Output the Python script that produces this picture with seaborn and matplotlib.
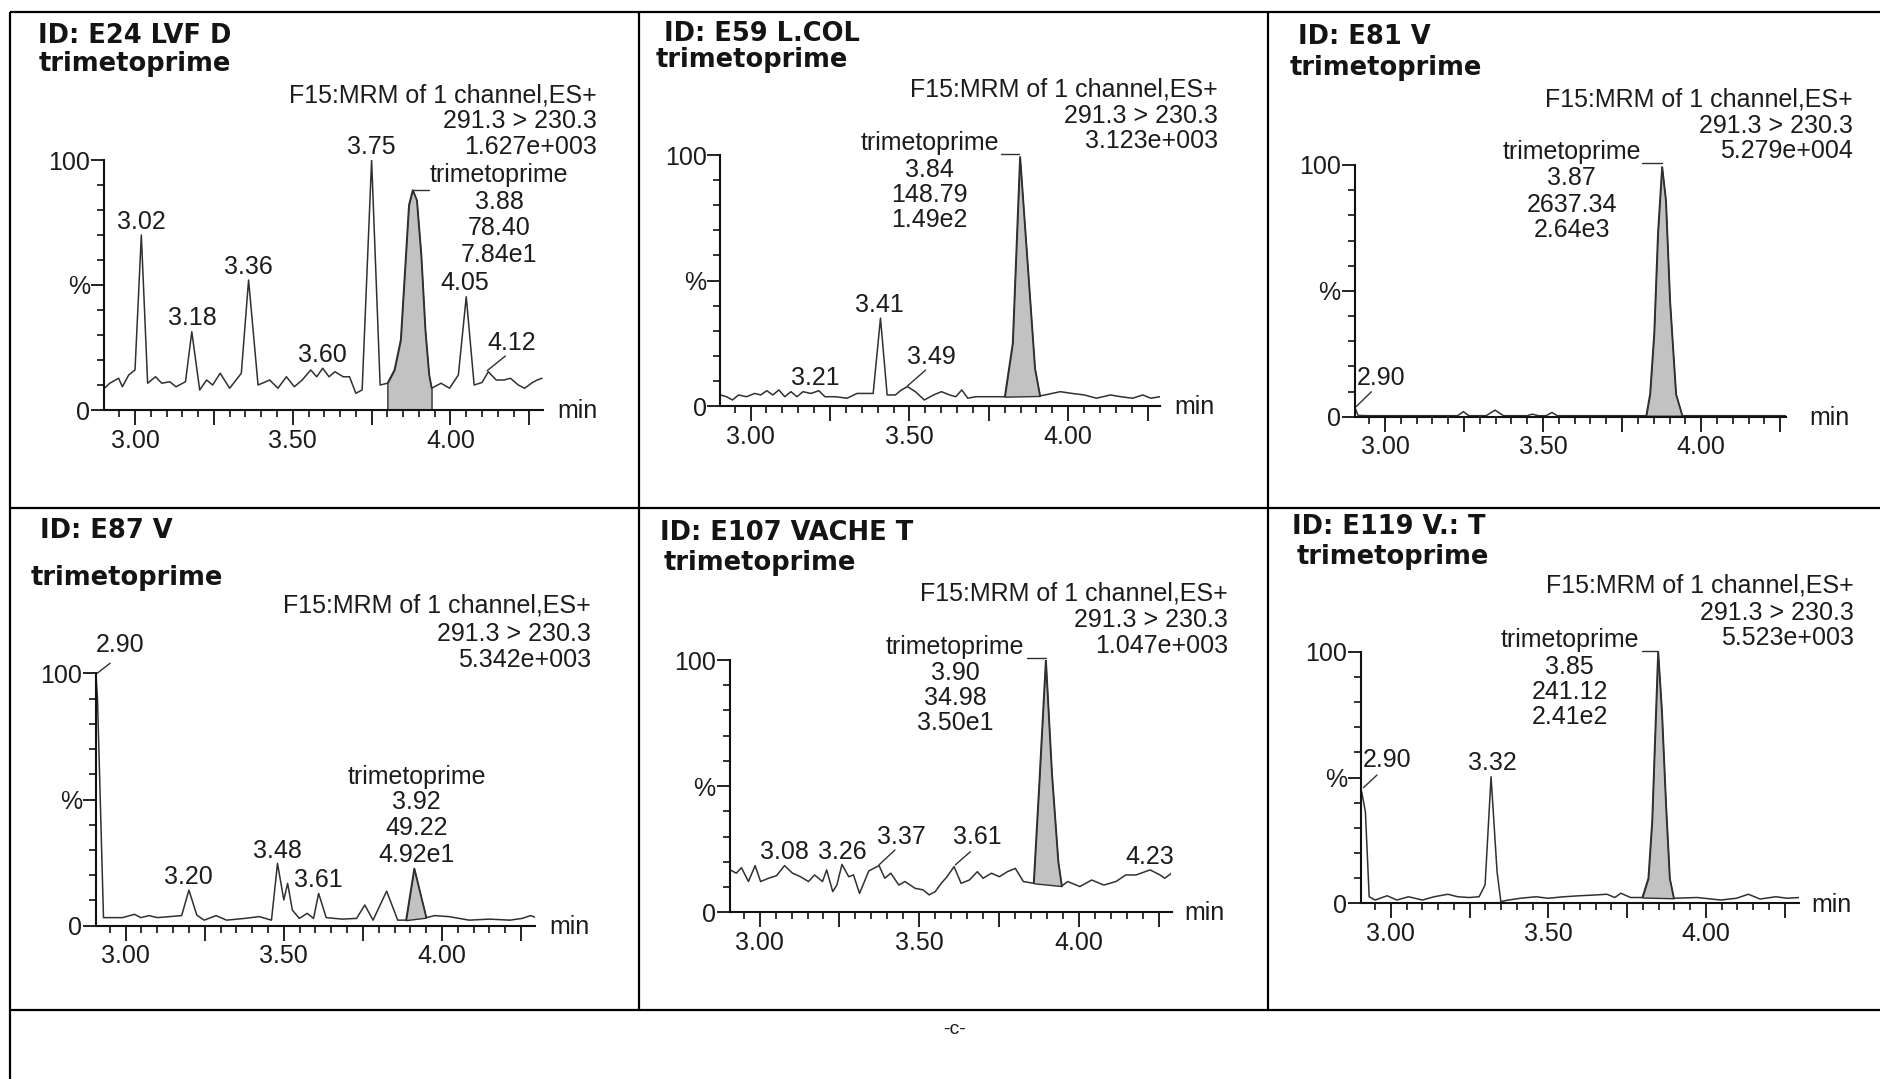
import numpy as np
import pandas as pd
import matplotlib
matplotlib.use("Agg")
import matplotlib.pyplot as plt
import seaborn as sns

# ------------------------------------------------------------------ data
sample_ids = ["ID: E24 LVF D", "ID: E59 L.COL", "ID: E81 V",
              "ID: E87 V", "ID: E107 VACHE T", "ID: E119 V.: T"]
compound = "trimetoprime"
channel_line = "F15:MRM of 1 channel,ES+"
transition = "291.3 > 230.3"
intensities = ["1.627e+003", "3.123e+003", "5.279e+004",
               "5.342e+003", "1.047e+003", "5.523e+003"]
rt_labels = ["3.88", "3.84", "3.87", "3.92", "3.90", "3.85"]
areas = ["78.40", "148.79", "2637.34", "49.22", "34.98", "241.12"]
areas_sci = ["7.84e1", "1.49e2", "2.64e3", "4.92e1", "3.50e1", "2.41e2"]

e24_t = [2.903, 2.92, 2.948, 2.96, 2.98, 3.00, 3.02, 3.04, 3.065, 3.085, 3.11, 3.13, 3.16, 3.18,
         3.205, 3.227, 3.246, 3.27, 3.30, 3.337, 3.36, 3.39, 3.427, 3.453, 3.48, 3.505, 3.53,
         3.557, 3.576, 3.595, 3.615, 3.634, 3.66, 3.68, 3.70, 3.72, 3.75, 3.777, 3.80, 3.822,
         3.842, 3.855, 3.868, 3.88, 3.893, 3.907, 3.92, 3.932, 3.94, 3.97, 3.997, 4.025, 4.05,
         4.075, 4.10, 4.12, 4.145, 4.17, 4.19, 4.215, 4.235, 4.26, 4.275, 4.29]
e24_y = [8.7, 10.7, 12.7, 9.3, 14.0, 16.0, 70.0, 10.7, 13.3, 10.7, 11.3, 9.3, 11.3, 31.3,
         8.0, 12.0, 10.0, 14.7, 8.7, 14.7, 52.0, 10.0, 12.0, 8.7, 13.3, 9.3, 12.0,
         16.0, 13.3, 16.7, 13.3, 15.3, 13.3, 13.3, 6.7, 8.0, 100.0, 10.0, 10.7, 16.0,
         28.0, 55.0, 82.0, 88.0, 84.0, 62.0, 32.0, 14.0, 8.7, 10.7, 8.7, 14.0, 45.3,
         10.0, 11.0, 15.3, 12.0, 12.0, 12.7, 10.0, 8.7, 11.0, 12.0, 12.7]
e24_peaks = ["3.02", "3.18", "3.36", "3.60", "3.75", "4.05", "4.12"]
e24_window = (3.80, 3.94)

e59_t = [2.905, 2.924, 2.943, 2.962, 2.987, 3.013, 3.032, 3.051, 3.07, 3.089, 3.108, 3.127,
         3.146, 3.165, 3.19, 3.215, 3.234, 3.266, 3.304, 3.335, 3.361, 3.386, 3.409, 3.43,
         3.456, 3.475, 3.494, 3.519, 3.547, 3.576, 3.601, 3.627, 3.646, 3.665, 3.684, 3.709,
         3.747, 3.80, 3.825, 3.848, 3.87, 3.895, 3.911, 3.949, 3.975, 4.013, 4.051, 4.089,
         4.133, 4.165, 4.203, 4.235, 4.26, 4.29]
e59_y = [4.4, 3.7, 2.4, 4.4, 3.7, 5.0, 4.4, 6.1, 4.4, 6.4, 3.7, 5.7,
         3.7, 5.7, 5.0, 6.1, 3.7, 3.7, 3.1, 5.0, 5.0, 5.0, 35.0, 4.4,
         4.4, 6.4, 7.7, 5.7, 2.4, 4.4, 5.7, 4.4, 3.7, 6.4, 3.1, 3.7,
         3.7, 3.7, 25.0, 99.3, 60.0, 15.0, 4.0, 5.0, 5.7, 5.0, 4.4, 3.1,
         4.4, 3.7, 3.1, 4.4, 3.1, 3.7]
e59_peaks = ["3.21", "3.41", "3.49"]
e59_window = (3.80, 3.911)

e81_t = [2.904, 2.915, 2.95, 3.00, 3.05, 3.10, 3.15, 3.20, 3.23, 3.248, 3.265, 3.32, 3.348,
         3.375, 3.45, 3.466, 3.485, 3.51, 3.528, 3.545, 3.60, 3.70, 3.80, 3.826, 3.838,
         3.851, 3.863, 3.876, 3.888, 3.901, 3.92, 3.94, 4.00, 4.10, 4.20, 4.267]
e81_y = [4.0, 0.5, 0.4, 0.4, 0.4, 0.4, 0.4, 0.4, 0.4, 2.0, 0.4, 0.4, 2.6,
         0.4, 0.4, 1.0, 0.4, 0.4, 1.7, 0.4, 0.4, 0.4, 0.4, 0.4, 9.0,
         33.0, 73.0, 99.3, 86.0, 46.0, 9.0, 0.4, 0.4, 0.4, 0.4, 0.4]
e81_peaks = ["2.90"]
e81_window = (3.826, 3.94)

e87_t = [2.906, 2.911, 2.93, 2.99, 3.028, 3.048, 3.074, 3.10, 3.177, 3.20, 3.225, 3.248,
         3.286, 3.319, 3.377, 3.422, 3.461, 3.48, 3.50, 3.512, 3.527, 3.549, 3.574, 3.594,
         3.61, 3.634, 3.685, 3.73, 3.756, 3.782, 3.825, 3.86, 3.886, 3.912, 3.95, 3.977,
         4.022, 4.086, 4.15, 4.215, 4.254, 4.28, 4.293]
e87_y = [100.0, 90.0, 3.2, 3.2, 4.5, 3.2, 4.0, 3.2, 4.0, 14.1, 4.2, 2.2,
         4.0, 2.2, 2.9, 3.6, 2.2, 24.7, 10.2, 16.8, 6.2, 2.9, 4.9, 2.9,
         12.8, 3.2, 2.6, 2.9, 8.2, 2.2, 13.7, 2.2, 2.2, 22.7, 3.2, 4.0,
         3.6, 2.2, 2.6, 2.2, 2.9, 4.0, 3.4]
e87_peaks = ["2.90", "3.20", "3.48", "3.61"]
e87_window = (3.886, 3.95)

e107_t = [2.908, 2.927, 2.943, 2.965, 2.986, 3.003, 3.028, 3.053, 3.078, 3.103, 3.128, 3.153,
          3.172, 3.197, 3.21, 3.229, 3.242, 3.258, 3.279, 3.294, 3.313, 3.342, 3.374, 3.392,
          3.411, 3.436, 3.455, 3.487, 3.512, 3.531, 3.55, 3.569, 3.587, 3.609, 3.631, 3.657,
          3.682, 3.70, 3.726, 3.751, 3.776, 3.801, 3.826, 3.858, 3.875, 3.896, 3.915, 3.935,
          3.946, 3.965, 4.003, 4.04, 4.078, 4.116, 4.147, 4.179, 4.223, 4.254, 4.269, 4.29]
e107_y = [16.8, 15.5, 17.7, 12.2, 18.5, 12.2, 13.5, 14.5, 18.5, 15.5, 14.1, 12.2,
          14.8, 12.2, 16.8, 8.2, 10.8, 19.0, 14.1, 14.8, 7.5, 16.4, 18.5, 13.5,
          15.5, 10.8, 12.2, 9.5, 8.9, 6.9, 8.2, 11.5, 14.1, 18.1, 11.5, 12.8,
          16.1, 13.5, 15.5, 14.1, 16.1, 17.4, 12.2, 11.5, 50.0, 100.0, 55.0, 20.0,
          10.4, 12.2, 10.2, 12.8, 10.8, 12.2, 14.8, 14.8, 16.8, 14.8, 13.5, 15.5]
e107_peaks = ["3.08", "3.26", "3.37", "3.61", "4.23"]
e107_window = (3.858, 3.946)

e119_t = [2.907, 2.919, 2.931, 2.95, 2.988, 3.019, 3.056, 3.10, 3.137, 3.181, 3.212, 3.249,
          3.28, 3.299, 3.318, 3.337, 3.349, 3.374, 3.411, 3.461, 3.499, 3.549, 3.599, 3.648,
          3.686, 3.711, 3.73, 3.761, 3.798, 3.817, 3.829, 3.842, 3.848, 3.86, 3.873, 3.885,
          3.898, 3.973, 4.047, 4.097, 4.135, 4.172, 4.222, 4.259, 4.297]
e119_y = [44.4, 36.4, 2.6, 1.3, 3.0, 1.3, 2.6, 1.3, 2.6, 3.6, 2.6, 2.3,
          2.6, 7.3, 50.3, 12.6, 0.7, 1.3, 2.0, 2.6, 2.0, 2.6, 3.0, 3.3,
          3.6, 2.3, 4.0, 2.3, 2.3, 9.9, 32.5, 78.8, 100.0, 76.2, 39.1, 9.9,
          2.0, 2.3, 1.3, 2.0, 3.6, 1.7, 2.6, 2.0, 2.3]
e119_peaks = ["2.90", "3.32"]
e119_window = (3.798, 3.898)

x_major = [3.00, 3.25, 3.50, 3.75, 4.00, 4.25]
x_major_labels = ["3.00", "", "3.50", "", "4.00", ""]
y_major = [0, 50, 100]
y_major_labels = ["0", "%", "100"]

# ------------------------------------------------------------------ layout (pixels / data positions)
W, H = 1881, 1079
panels = [
    dict(t=e24_t, y=e24_y, peaks=e24_peaks, win=e24_window, to_zero=True,
         ax=(104.1, 542.9, 160, 410), xlim=(2.902, 4.293),
         title=(38.5, 43), sub=(38.5, 71), head=(597, [102, 128, 154]), minl=(557, 411),
         ppos=[(3.019, 75.3), (3.181, 36.7), (3.359, 57.3), (3.594, 22), (3.748, 105.3),
               (4.045, 50.7), (4.194, 26.7)],
         leaders=[((4.174, 21.6), (4.116, 15.7))],
         tri=(4.155, [94, 83.3, 72.7, 62]), tri_lead=((3.88, 88), (3.932, 88))),
    dict(t=e59_t, y=e59_y, peaks=e59_peaks, win=e59_window, to_zero=False,
         ax=(720.4, 1160.3, 155, 406), xlim=(2.905, 4.29),
         title=(664, 41), sub=(656, 67), head=(1218, [96, 123, 148]), minl=(1174, 407),
         ppos=[(3.203, 11.0), (3.405, 40.2), (3.57, 19.7)],
         leaders=[((3.551, 14.3), (3.494, 8.0))],
         tri=(3.563, [104.6, 94, 84.1, 74.1]), tri_lead=((3.79, 100.3), (3.846, 100.3))),
    dict(t=e81_t, y=e81_y, peaks=e81_peaks, win=e81_window, to_zero=False,
         ax=(1354.6, 1785.6, 165, 416.7), xlim=(2.904, 4.267),
         title=(1298, 44), sub=(1290, 75), head=(1853, [107, 133, 158]), minl=(1809, 418),
         ppos=[(2.988, 15.2)],
         leaders=[((2.957, 9.9), (2.909, 4.0))],
         tri=(3.59, [105.3, 94.7, 84.1, 74.2]), tri_lead=((3.814, 100.7), (3.876, 100.7))),
    dict(t=e87_t, y=e87_y, peaks=e87_peaks, win=e87_window, to_zero=False,
         ax=(95.9, 534.7, 673.3, 925.7), xlim=(2.906, 4.293),
         title=(39.6, 538), sub=(30.6, 585), head=(591, [613, 641, 667]), minl=(549, 927),
         ppos=[(2.983, 111.2), (3.199, 19.4), (3.48, 29.6), (3.609, 18.1)],
         leaders=[((2.951, 104), (2.91, 100))],
         tri=(3.919, [59.0, 49.1, 38.6, 28.0]), tri_lead=None),
    dict(t=e107_t, y=e107_y, peaks=e107_peaks, win=e107_window, to_zero=False,
         ax=(729.6, 1171.5, 660, 912.3), xlim=(2.906, 4.29),
         title=(660, 540), sub=(664, 570), head=(1228, [600, 627, 653]), minl=(1184, 913),
         ppos=[(3.078, 24.0), (3.26, 24.0), (3.443, 30.0), (3.682, 30.0), (4.223, 22.1)],
         leaders=[((3.424, 24.7), (3.374, 18.8)), ((3.66, 24.0), (3.613, 18.8))],
         tri=(3.613, [105.3, 94.7, 84.8, 74.9]), tri_lead=((3.839, 100.7), (3.896, 100.7))),
    dict(t=e119_t, y=e119_y, peaks=e119_peaks, win=e119_window, to_zero=False,
         ax=(1361.3, 1799.4, 651.7, 903.3), xlim=(2.906, 4.297),
         title=(1292.5, 534), sub=(1296.4, 564), head=(1854, [593, 620, 645]), minl=(1811, 905),
         ppos=[(2.988, 57.0), (3.322, 55.6)],
         leaders=[((2.956, 51), (2.913, 46))],
         tri=(3.567, [104.6, 94, 84.1, 74.2]), tri_lead=((3.798, 100.4), (3.848, 100.4))),
]

# ------------------------------------------------------------------ style
sns.set_theme(style="ticks")
plt.rcParams['font.family'] = ['Liberation Sans', 'DejaVu Sans']
TXT = "#1c1c1c"
TRACE = "#303030"
AXC = "#111111"
FS = 18
TITLE_FONT = dict(family=['DejaVu Sans'], weight='bold', size=18.5, color="#141414")

fig = plt.figure(figsize=(W / 100, H / 100), dpi=100, facecolor="white")

bg = fig.add_axes([0, 0, 1, 1], zorder=0)
bg.set_xlim(0, W)
bg.set_ylim(H, 0)
bg.axis('off')

# table grid
LW_T = 1.6
bg.plot([10, W], [12, 12], color="black", lw=LW_T, solid_capstyle='butt')
bg.plot([10, W], [508, 508], color="black", lw=LW_T, solid_capstyle='butt')
bg.plot([10, W], [1010, 1010], color="black", lw=LW_T, solid_capstyle='butt')
bg.plot([10, 10], [12, H], color="black", lw=LW_T, solid_capstyle='butt')
bg.plot([639, 639], [12, 1010], color="black", lw=LW_T, solid_capstyle='butt')
bg.plot([1268, 1268], [12, 1010], color="black", lw=LW_T, solid_capstyle='butt')
bg.text(954, 1030, "-c-", ha='center', va='center', fontsize=14, color=TXT)

for i, p in enumerate(panels):
    L, R, T, B = p["ax"]
    ax = fig.add_axes([L / W, 1 - B / H, (R - L) / W, (B - T) / H], zorder=2)
    ax.patch.set_alpha(0)

    t = np.asarray(p["t"], dtype=float)
    yv = np.asarray(p["y"], dtype=float)

    # integrated (shaded) peak
    w0, w1 = p["win"]
    m = (t >= w0 - 1e-9) & (t <= w1 + 1e-9)
    ts, ys = t[m], yv[m]
    if p["to_zero"]:
        base = np.zeros_like(ys)
    else:
        base = ys[0] + (ys[-1] - ys[0]) * (ts - ts[0]) / (ts[-1] - ts[0])
    ax.fill_between(ts, base, ys, facecolor="#c2c2c2", edgecolor=TRACE, linewidth=1.0, zorder=1)

    df = pd.DataFrame({"Retention time (min)": t, "Intensity (%)": yv})
    sns.lineplot(data=df, x="Retention time (min)", y="Intensity (%)", ax=ax, color=TRACE,
                 linewidth=1.1, estimator=None, sort=False, legend=False, zorder=2)

    ax.set_xlim(*p["xlim"])
    ax.set_ylim(0, 100)
    ax.set_xlabel("")
    ax.set_ylabel("")
    for s in ["top", "right"]:
        ax.spines[s].set_visible(False)
    for s in ["left", "bottom"]:
        ax.spines[s].set_linewidth(1.5)
        ax.spines[s].set_color(AXC)

    ax.set_xticks(x_major)
    ax.set_xticklabels(x_major_labels)
    minors = [v for v in np.round(np.arange(2.95, 4.30, 0.05), 2)
              if all(abs(v - mj) > 1e-6 for mj in x_major) and p["xlim"][0] <= v <= p["xlim"][1]]
    ax.set_xticks(minors, minor=True)
    ax.set_yticks(y_major)
    ax.set_yticklabels(y_major_labels)
    ax.set_yticks([10, 20, 30, 40, 60, 70, 80, 90], minor=True)
    ax.tick_params(axis='x', which='major', bottom=True, direction='out', length=10.5,
                   width=1.3, color=AXC, labelsize=FS, labelcolor=TXT, pad=3)
    ax.tick_params(axis='x', which='minor', bottom=True, direction='out', length=5,
                   width=1.2, color=AXC)
    ax.tick_params(axis='y', which='major', left=True, direction='out', length=9.5,
                   width=1.3, color=AXC, labelsize=FS, labelcolor=TXT, pad=0.5)
    ax.tick_params(axis='y', which='minor', left=True, direction='out', length=5,
                   width=1.2, color=AXC)

    # peak labels
    for lab, (px, py) in zip(p["peaks"], p["ppos"]):
        ax.text(px, py, lab, ha='center', va='center', fontsize=FS, color=TXT, clip_on=False)
    for (a, b) in p["leaders"]:
        ax.plot([a[0], b[0]], [a[1], b[1]], color=TRACE, lw=1.0, clip_on=False)

    # compound annotation block
    tx, tys = p["tri"]
    block = [compound, rt_labels[i], areas[i], areas_sci[i]]
    for s, ty in zip(block, tys):
        ax.text(tx, ty, s, ha='center', va='center', fontsize=FS, color=TXT, clip_on=False)
    if p["tri_lead"] is not None:
        (a, b) = p["tri_lead"]
        ax.plot([a[0], b[0]], [a[1], b[1]], color=TRACE, lw=1.0, clip_on=False)

    # titles and header (pixel coordinates)
    bg.text(p["title"][0], p["title"][1], sample_ids[i], ha='left', va='baseline', **TITLE_FONT)
    bg.text(p["sub"][0], p["sub"][1], compound, ha='left', va='baseline', **TITLE_FONT)
    hx, hys = p["head"]
    for s, hy in zip([channel_line, transition, intensities[i]], hys):
        bg.text(hx, hy, s, ha='right', va='baseline', fontsize=FS, color=TXT)
    bg.text(p["minl"][0], p["minl"][1], "min", ha='left', va='center', fontsize=FS, color=TXT)

fig.savefig("out.png", dpi=100, facecolor="white")
